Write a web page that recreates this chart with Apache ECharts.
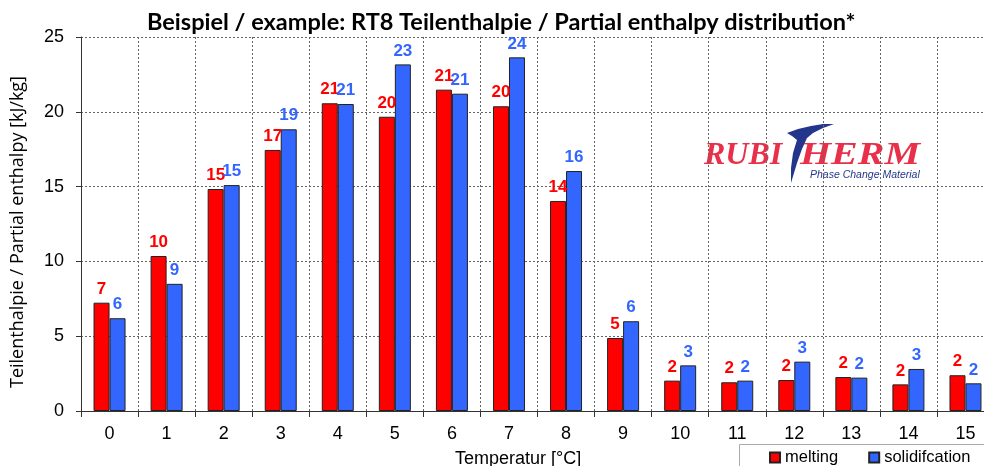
<!DOCTYPE html>
<html><head><meta charset="utf-8">
<script src="https://cdn.jsdelivr.net/npm/echarts@6/dist/echarts.min.js"></script>
<style>html,body{margin:0;padding:0;background:#fff}#c{width:984px;height:466px}</style>
</head><body><div id="c"></div>
<script>
const categories = ['0','1','2','3','4','5','6','7','8','9','10','11','12','13','14','15'];
const melting = [7.24,10.36,14.84,17.45,20.57,19.67,21.48,20.37,14.04,4.88,2.03,1.92,2.07,2.27,1.78,2.39];
const solidification = [6.2,8.5,15.1,18.83,20.52,23.17,21.21,23.64,16.04,6.0,3.05,2.03,3.3,2.23,2.81,1.85];

const chart = echarts.init(document.getElementById('c'), null, {renderer:'canvas', width:984, height:466});
const lab = (color) => ({
  show:true, position:'top', distance:5, color:color, fontWeight:'bold',
  fontFamily:'Liberation Sans, Arial', fontSize:17,
  formatter: p => Math.round(p.value)
});
chart.setOption({
  animation:false,
  title:{text:'Beispiel / example: RT8 Teilenthalpie / Partial enthalpy distribution*',
    left:142, top:5,
    textStyle:{fontFamily:'Lato', fontWeight:'bold', fontSize:23.5, color:'#000'}},
  grid:{left:81, width:913, top:37, bottom:55, outerBoundsMode:'none', containLabel:false},
  legend:{left:769, top:449, itemWidth:10, itemHeight:10, itemGap:30, padding:0, icon:'rect',
    textStyle:{fontFamily:'Liberation Sans, Arial', fontSize:16.5, color:'#000'},
    data:['melting','solidifcation']},
  xAxis:{type:'category', data:categories, boundaryGap:true,
    axisLine:{lineStyle:{color:'#333',width:1}},
    axisTick:{show:true, length:6, lineStyle:{color:'#333'}},
    axisLabel:{fontFamily:'Liberation Sans, Arial', fontSize:18, color:'#000', margin:14},
    splitLine:{show:true, lineStyle:{color:'#666', type:[2,2], width:1}}},
  yAxis:{type:'value', min:0, max:25, interval:5,
    axisLine:{show:true, lineStyle:{color:'#333',width:1}},
    axisTick:{show:true, length:5, lineStyle:{color:'#333'}},
    axisLabel:{fontFamily:'Liberation Sans, Arial', fontSize:18, color:'#000', margin:17},
    splitLine:{show:true, lineStyle:{color:'#666', type:[2,2], width:1}}},
  series:[
    {name:'melting', type:'bar', data:melting, barWidth:16, barGap:'0%',
      itemStyle:{color:'#FF0000', borderColor:'#222', borderWidth:1}, label:lab('#FF0000')},
    {name:'solidifcation', type:'bar', data:solidification, barWidth:16, barGap:'0%',
      itemStyle:{color:'#3366FF', borderColor:'#222', borderWidth:1}, label:lab('#3366FF')}
  ],
  graphic:[
    {type:'rect', left:739, top:444, z:-1, shape:{width:270, height:40}, style:{fill:'#fff', stroke:'#aaa', lineWidth:1}},
    {type:'text', left:455, top:450, style:{text:'Temperatur [°C]', font:'18px "Liberation Sans", Arial', fill:'#000'}},
    {type:'text', x:18, y:232, rotation:Math.PI/2, style:{text:'Teilenthalpie / Partial enthalpy [kJ/kg]', font:'18px "Open Sans"', fill:'#000', align:'center', verticalAlign:'middle'}},
    {type:'group', left:699, top:124, children:[
      {type:'rect', shape:{x:0,y:4,width:228,height:60}, style:{fill:'#fff'}},
      {type:'text', x:5, y:17, style:{text:'RUBI', font:'italic bold 32px "Liberation Serif"', fill:'#E8304A'}},
      {type:'text', x:101, y:17, scaleX:1.25, style:{text:'HERM', font:'italic bold 32px "Liberation Serif"', fill:'#E8304A'}},
      {type:'polygon', shape:{points:[[88,10],[99,6],[112,3],[124,1],[135,1],[124,5],[114,10],[108,15],[103,26],[98,40],[92,60],[92,45],[94,30],[98,17],[93,13]]}, style:{fill:'#24368C'}},
      {type:'text', x:111, y:47, style:{text:'Phase Change Material', font:'italic 10.5px "Liberation Sans"', fill:'#24368C'}}
    ]}
  ]
});
</script></body></html>
